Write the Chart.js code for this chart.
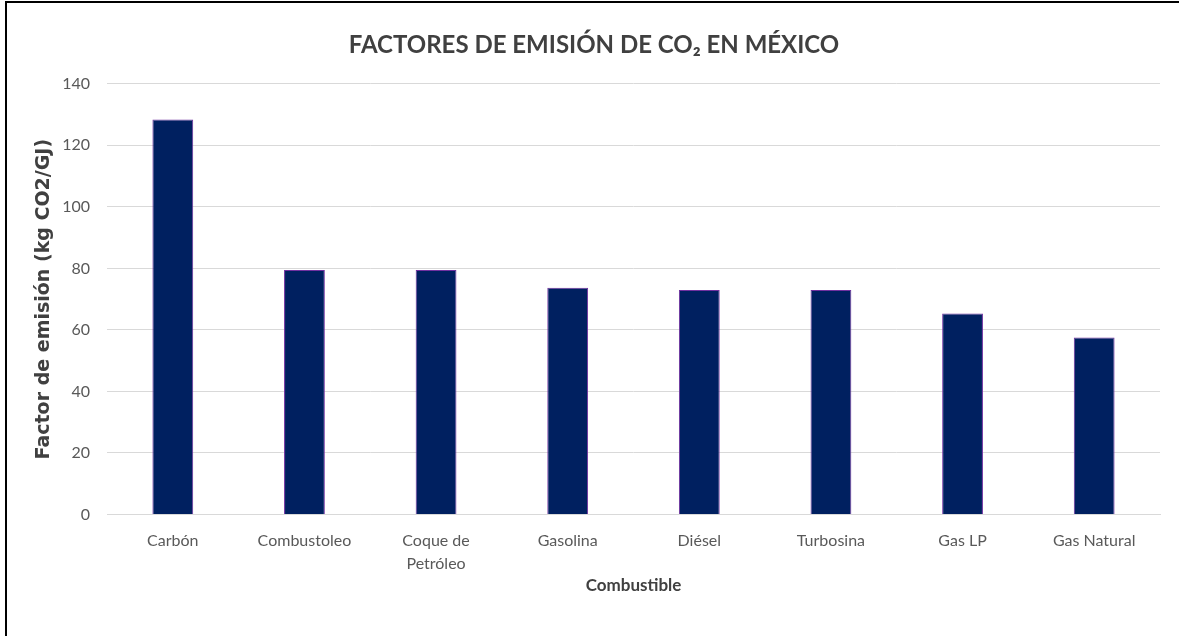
<!DOCTYPE html>
<html>
<head>
    <title>Factores de emisión de CO2 en México</title>
    <script src="https://cdn.jsdelivr.net/npm/chart.js@4"></script>
    <style>
        body { margin: 0; background: #fff; overflow: hidden; }
        #wrap { position: relative; width: 1179px; height: 636px; }
        #frame { position: absolute; left: 5px; top: 1px; right: 0; bottom: 0; border-left: 2px solid #000; border-top: 2px solid #000; pointer-events: none; }
    </style>
</head>
<body>
    <div id="wrap">
        <canvas id="chart" width="1179" height="636"></canvas>
        <div id="frame"></div>
    </div>

    <script>
        // data
        const combustibles = ['Carbón', 'Combustoleo', ['Coque de', 'Petróleo'], 'Gasolina', 'Diésel', 'Turbosina', 'Gas LP', 'Gas Natural'];
        const factores = [128.4, 79.5, 79.5, 73.7, 73.0, 73.0, 65.3, 57.5];
        const yMin = 0, yMax = 140, yStep = 20;

        const fontFamily = 'Lato, "Open Sans", sans-serif';

        const ctx = document.getElementById('chart').getContext('2d');
        new Chart(ctx, {
            type: 'bar',
            data: {
                labels: combustibles,
                datasets: [{
                    label: 'Factor de emisión',
                    data: factores,
                    backgroundColor: '#002060',
                    borderColor: '#7030A0',
                    borderWidth: 1,
                    categoryPercentage: 1,
                    barPercentage: 0.31,
                }],
            },
            options: {
                responsive: false,
                animation: false,
                layout: { padding: { left: 28, right: 19, top: 0, bottom: 0 } },
                plugins: {
                    legend: { display: false },
                    tooltip: { enabled: false },
                    title: {
                        display: true,
                        text: 'FACTORES DE EMISIÓN DE CO₂ EN MÉXICO',
                        color: '#404040',
                        font: { family: fontFamily, size: 24, weight: 'bold' },
                        padding: { top: 31, bottom: 24 },
                    },
                },
                scales: {
                    y: {
                        min: yMin,
                        max: yMax,
                        afterFit: (scale) => { scale.width = 79; },
                        ticks: { stepSize: yStep, color: '#595959', font: { family: fontFamily, size: 16 }, padding: 17 },
                        grid: { color: '#d9d9d9', drawTicks: false },
                        border: { display: false },
                        title: {
                            display: true,
                            text: 'Factor de emisión (kg CO2/GJ)',
                            color: '#404040',
                            font: { family: '"DejaVu Sans", sans-serif', size: 19, weight: 'bold' },
                            padding: { top: 5, bottom: 4 },
                        },
                    },
                    x: {
                        afterFit: (scale) => { scale.height = 121.5; },
                        ticks: { color: '#595959', font: { family: fontFamily, size: 16, lineHeight: 1.45 }, padding: 15, maxRotation: 0 },
                        grid: { display: false, drawTicks: false },
                        border: { color: '#d9d9d9', width: 1 },
                        title: {
                            display: true,
                            text: 'Combustible',
                            color: '#404040',
                            font: { family: fontFamily, size: 17, weight: 'bold' },
                            padding: { top: 4, bottom: 40 },
                        },
                    },
                },
            },
        });
    </script>
</body>
</html>
